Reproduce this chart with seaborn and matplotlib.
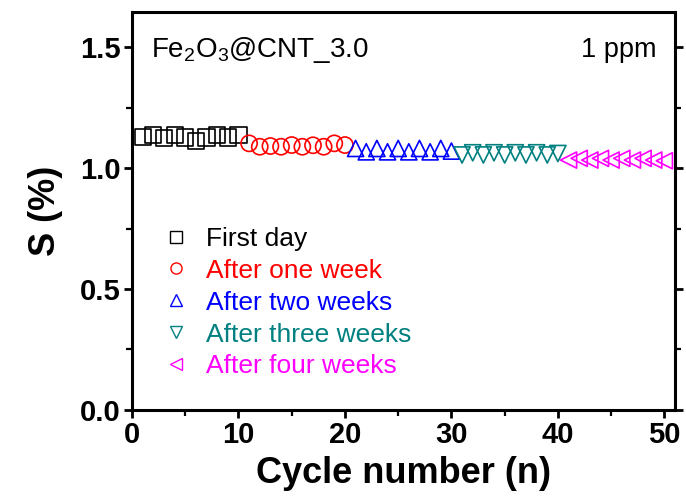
import numpy as np
import pandas as pd
import matplotlib
matplotlib.use("Agg")
import matplotlib.pyplot as plt
from matplotlib.lines import Line2D
from matplotlib.ticker import MultipleLocator
import seaborn as sns

# donnees
cycles_1 = list(range(1, 11))
s_first_day = [1.128, 1.138, 1.124, 1.136, 1.126, 1.112, 1.126, 1.138, 1.126, 1.138]
cycles_2 = list(range(11, 21))
s_one_week = [1.102, 1.088, 1.091, 1.088, 1.095, 1.088, 1.094, 1.088, 1.102, 1.095]
cycles_3 = list(range(21, 31))
s_two_weeks = [1.081, 1.067, 1.081, 1.067, 1.081, 1.067, 1.081, 1.067, 1.081, 1.070]
cycles_4 = list(range(31, 41))
s_three_weeks = [1.054, 1.063, 1.054, 1.063, 1.054, 1.063, 1.054, 1.063, 1.054, 1.060]
cycles_5 = list(range(41, 51))
s_four_weeks = [1.033, 1.040, 1.033, 1.040, 1.033, 1.040, 1.033, 1.040, 1.033, 1.030]

labels = ["First day", "After one week", "After two weeks", "After three weeks", "After four weeks"]
colors = ["black", "#ff0000", "#0000ff", "#008080", "#ff00ff"]
markers = ["s", "o", "^", "v", "<"]

sns.set_style("ticks")
plt.rcParams['font.family'] = ['Liberation Sans', 'DejaVu Sans']
plt.rcParams.update({"text.color": "black", "axes.labelcolor": "black",
                     "xtick.color": "black", "ytick.color": "black",
                     "axes.edgecolor": "black"})

fig = plt.figure(figsize=(6.86, 4.99), dpi=100)
ax = fig.add_axes([0.1924, 0.1784, 0.7916, 0.7976])

series = [(cycles_1, s_first_day), (cycles_2, s_one_week), (cycles_3, s_two_weeks),
          (cycles_4, s_three_weeks), (cycles_5, s_four_weeks)]
for (x, y), lab, c, m in zip(series, labels, colors, markers):
    df = pd.DataFrame({"cycle": x, "S": y})
    sns.scatterplot(data=df, x="cycle", y="S", marker=m, s=135, facecolors="none",
                    edgecolors=c, linewidth=1.2, ax=ax, legend=False, zorder=3)

ax.set_xlim(0, 51)
ax.set_ylim(0, 1.645)
ax.xaxis.set_minor_locator(MultipleLocator(5))
ax.yaxis.set_minor_locator(MultipleLocator(0.25))
ax.set_xticks([0, 10, 20, 30, 40, 50])
ax.set_xticklabels(["0", "10", "20", "30", "40", "50"])
ax.set_yticks([0, 0.5, 1.0, 1.5])
ax.set_yticklabels(["0.0", "0.5", "1.0", "1.5"])

for sp in ax.spines.values():
    sp.set_linewidth(2.2)
ax.tick_params(which="major", direction="out", length=6, width=2, labelsize=21, right=True, pad=2)
ax.tick_params(which="minor", direction="out", length=4, width=1.6, right=True)
for t in ax.get_xticklabels() + ax.get_yticklabels():
    t.set_fontweight("bold")

ax.set_xlabel("Cycle number (n)", fontsize=26, fontweight="bold", labelpad=5)
ax.set_ylabel("S (%)", fontsize=26, fontweight="bold", labelpad=12)

ax.text(0.035, 0.905, "Fe$_\\mathregular{2}$O$_\\mathregular{3}$@CNT_3.0", transform=ax.transAxes,
        fontsize=20, va="center", ha="left")
ax.text(0.965, 0.905, "1 ppm", transform=ax.transAxes, fontsize=19.5, va="center", ha="right")

handles = [Line2D([], [], linestyle="none", marker=m, markerfacecolor="none",
                  markeredgecolor=c, markersize=8, markeredgewidth=1.0)
           for m, c in zip(markers, colors)]
leg = ax.legend(handles, labels, loc="upper left", bbox_to_anchor=(0.0, 0.52),
                frameon=False, fontsize=19, labelspacing=0.3, handletextpad=0.4,
                handlelength=1.5)
for txt, c in zip(leg.get_texts(), colors):
    txt.set_color(c)

fig.savefig("out.png", dpi=100)
